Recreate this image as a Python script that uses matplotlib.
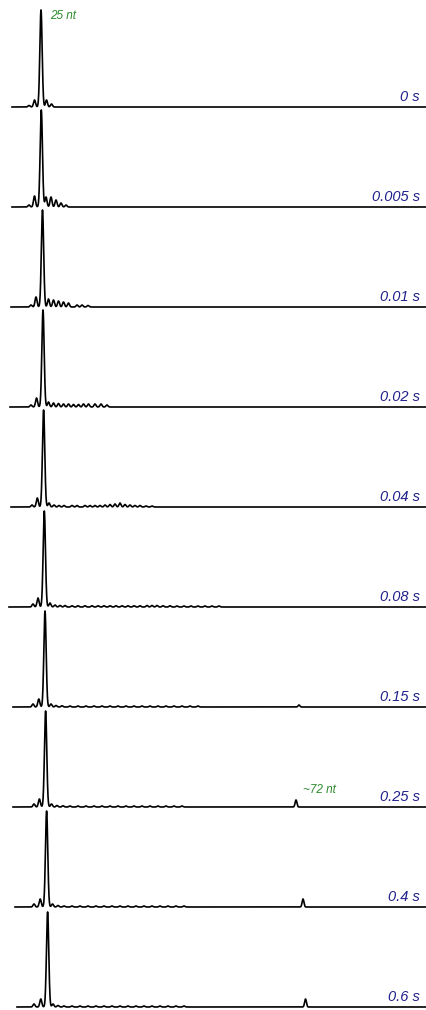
import numpy as np
import matplotlib.pyplot as plt

plt.rcParams['font.family'] = ['Liberation Sans', 'DejaVu Sans']

# Reaction time for each trace
times = ["0 s", "0.005 s", "0.01 s", "0.02 s", "0.04 s",
         "0.08 s", "0.15 s", "0.25 s", "0.4 s", "0.6 s"]

# Left end of each trace (migration units)
trace_start = [12, 12, 11, 10, 11, 9, 13, 13, 15, 17]

# Main (25 nt) peak: position and height per trace
main_pos = [41.0, 41.3, 42.5, 43.0, 43.6, 44.3, 45.0, 45.6, 46.6, 47.6]
main_height = [97, 97, 97, 97, 97, 96, 96, 96, 96, 95]

# Shorter products (left of the main peak): position, height
left_pos = [
    [29, 34.5],
    [29, 34.5],
    [31, 36.0],
    [31, 36.5],
    [32, 37.3],
    [33, 38.0],
    [33, 38.8],
    [34, 39.4],
    [34, 40.2],
    [34, 40.8],
]
left_height = [
    [1.5, 7],
    [2, 11],
    [2, 10],
    [2, 9],
    [2, 9],
    [3, 9],
    [3, 8],
    [3, 8],
    [3, 8],
    [3, 8],
]

# Extension products (right of the main peak): position, height
right_pos = [
    [46.5, 51.5],
    [46.0, 51.0, 56.0, 61.0, 66.0],
    [48.5, 53.5, 58.5, 63.5, 68.5, 77.0, 82.0, 88.0],
    [48.5, 53.5, 58.5, 63.5, 68.5, 73.5, 78.5, 83.5, 88.5, 95.0, 101.0, 107.0],
    [49.0, 54.0, 59.0, 64.0, 72.0, 77.0, 85.0, 90.0, 95.0, 100.0, 105.0,
     110.0, 115.0, 120.0, 125.0, 130.0, 135.0, 140.0, 146.0, 152.0],
    [50.0, 55.0, 60.0, 65.0, 72.0, 78.0, 85.0, 92.0, 98.0, 104.0, 110.0,
     116.0, 122.0, 128.0, 134.0, 140.0, 147.0, 152.0, 157.0, 163.0, 170.0,
     177.0, 184.0, 191.0, 198.0, 205.0, 212.0, 219.0],
    [51.0, 56.0, 62.0, 70.0, 78.0, 86.0, 94.0, 102.0, 110.0, 118.0, 126.0,
     134.0, 142.0, 150.0, 158.0, 166.0, 174.0, 182.0, 190.0, 198.0],
    [51.5, 57.0, 63.0, 70.0, 78.0, 86.0, 94.0, 102.0, 110.0, 118.0, 126.0,
     134.0, 142.0, 150.0, 158.0, 166.0, 174.0, 182.0],
    [52.5, 58.0, 64.0, 72.0, 80.0, 88.0, 96.0, 104.0, 112.0, 120.0, 128.0,
     136.0, 144.0, 152.0, 160.0, 168.0, 176.0, 184.0],
    [53.0, 58.0, 64.0, 72.0, 80.0, 88.0, 96.0, 104.0, 112.0, 120.0, 128.0,
     136.0, 144.0, 152.0, 160.0, 168.0, 176.0, 184.0],
]
right_height = [
    [7, 3],
    [10, 10, 7, 4, 2],
    [8, 7, 6, 5, 4, 2, 2, 1.5],
    [5, 4, 3.5, 3, 3, 2.5, 2.5, 3, 3, 3, 3, 2],
    [4, 2, 1.5, 1.5, 1.5, 1.5, 1.5, 1.5, 1.5, 1.5, 2, 2.5, 3, 4, 2.5, 2,
     1.5, 1.5, 1, 1],
    [4, 2, 1.5, 1.5, 1.2, 1.2, 1.2, 1.2, 1.2, 1.2, 1.2, 1.2, 1.2, 1.2, 1.2,
     1.2, 1.5, 1.5, 1.5, 1.2, 1.2, 1.0, 1.0, 1.0, 1.0, 1.0, 1.0, 1.0],
    [3, 1.5, 1.2, 1.0, 1.0, 1.0, 1.0, 1.0, 1.0, 1.0, 1.0, 1.0, 1.0, 1.0,
     1.0, 1.0, 1.0, 1.0, 1.0, 1.0],
    [3, 1.5, 1.2, 1.0, 1.0, 1.0, 1.0, 1.0, 1.0, 1.0, 1.0, 1.0, 1.0, 1.0,
     1.0, 1.0, 1.0, 1.0],
    [3, 1.5, 1.0, 1.0, 1.0, 1.0, 1.0, 1.0, 1.0, 1.0, 1.0, 1.0, 1.0, 1.0,
     1.0, 1.0, 1.0, 1.0],
    [3, 1.5, 1.0, 1.0, 1.0, 1.0, 1.0, 1.0, 1.0, 1.0, 1.0, 1.0, 1.0, 1.0,
     1.0, 1.0, 1.0, 1.0],
]

# Long (~72 nt) product appearing at later times
long_pos = [None, None, None, None, None, None, 299.0, 296.0, 303.0, 305.5]
long_height = [0, 0, 0, 0, 0, 0, 2, 7, 8, 8]

W, H = 427, 1010
fig = plt.figure(figsize=(W / 100, H / 100), dpi=100)

panel_h = 100
first_baseline = 107
x = np.linspace(0, W, 4271)


def peak(xs, p, h, s):
    return h * np.exp(-0.5 * ((xs - p) / s) ** 2)


for i, label in enumerate(times):
    base_px = first_baseline + i * panel_h
    bottom = 1 - (base_px + 3) / H
    ax = fig.add_axes([0, bottom, 1, panel_h / H])
    ax.set_xlim(0, W)
    ax.set_ylim(-3, 97)
    ax.axis('off')

    xs = x[x >= trace_start[i]]
    y = peak(xs, main_pos[i], main_height[i], 1.15)
    for p, h in zip(left_pos[i], left_height[i]):
        y += peak(xs, p, h, 1.0)
    for p, h in zip(right_pos[i], right_height[i]):
        y += peak(xs, p, h, 1.0)
    if long_pos[i] is not None:
        y += peak(xs, long_pos[i], long_height[i], 0.9)

    ax.plot(xs, y, color='black', lw=1.2, clip_on=False,
            solid_joinstyle='round')

    ax.text(420, 10, label, ha='right', va='center', fontsize=10.5,
            style='italic', color='#20208c')

    if i == 0:
        ax.text(50, 91, "25 nt", ha='left', va='center', fontsize=8.5,
                style='italic', color='#2e8b2e')
    if i == 7:
        ax.text(303, 17, "~72 nt", ha='left', va='center', fontsize=8.5,
                style='italic', color='#2e8b2e')

fig.savefig('out.png', dpi=100)
